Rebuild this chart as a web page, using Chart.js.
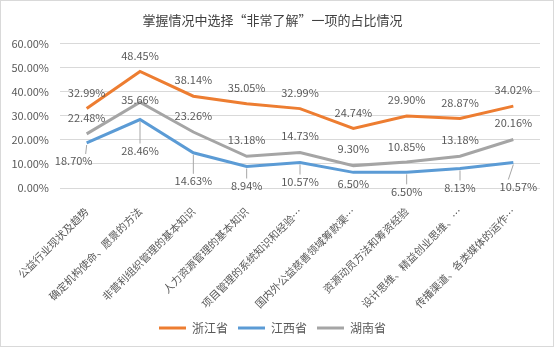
<!DOCTYPE html>
<html lang="zh">
<head>
<meta charset="UTF-8">
<title>掌握情况中选择“非常了解”一项的占比情况</title>
<script src="https://cdn.jsdelivr.net/npm/chart.js"></script>
<style>
    body { margin: 0; background: #fff; }
    .box { width: 554px; height: 347px; box-sizing: border-box; border: 1px solid #d9d9d9; }
    .box canvas { display: block; }
</style>
</head>
<body>
<div class="box"><canvas id="grafico" width="552" height="345"></canvas></div>

<script>
    // categorias (eixo x)
    const categorias = [
        '公益行业现状及趋势',
        '确定机构使命、愿景的方法',
        '非营利组织管理的基本知识',
        '人力资源管理的基本知识',
        '项目管理的系统知识和经验…',
        '国内外公益慈善领域筹款渠…',
        '资源动员方法和筹资经验',
        '设计思维、精益创业思维、…',
        '传播渠道、各类媒体的运作…'
    ];

    // series (%)
    const zhejiang = [32.99, 48.45, 38.14, 35.05, 32.99, 24.74, 29.90, 28.87, 34.02];
    const jiangxi = [18.70, 28.46, 14.63, 8.94, 10.57, 6.50, 6.50, 8.13, 10.57];
    const hunan = [22.48, 35.66, 23.26, 13.18, 14.73, 9.30, 10.85, 13.18, 20.16];

    const yMin = 0, yMax = 60, yStep = 10;

    const fonte = '"Noto Sans CJK SC", "Noto Sans", sans-serif';
    const cinza = '#595959';

    // deslocamento dos rótulos de dados (px) por série
    const rotulos = [
        { dx: [0, 0, 0, 0, 0, 0, 0, 0, 0], dy: [-16, -16, -16, -16, -16, -16, -16, -16, -16] },
        { dx: [-13, 0, 0, 0, 0, 0, 0, 0, 5], dy: [18, 31, 28, 19, 19, 11, 19, 19, 24] },
        { dx: [0, 0, 0, 0, 0, 0, 0, 0, 0], dy: [-16, -2, -16, -16, -17, -17, -15, -16, -17] }
    ];

    const pluginRotulos = {
        id: 'rotulos',
        afterDatasetsDraw(chart) {
            const c = chart.ctx;
            c.save();
            c.font = '11px ' + fonte;
            c.textAlign = 'center';
            c.textBaseline = 'middle';
            chart.data.datasets.forEach((ds, i) => {
                const meta = chart.getDatasetMeta(i);
                meta.data.forEach((pt, j) => {
                    const off = rotulos[i];
                    const x = pt.x + off.dx[j];
                    const y = pt.y + off.dy[j];
                    // linha guia
                    if (off.dy[j] > 15) {
                        c.strokeStyle = '#a6a6a6';
                        c.lineWidth = 1;
                        c.beginPath();
                        c.moveTo(pt.x, pt.y + 2);
                        c.lineTo(x + (off.dx[j] < 0 ? 12 : (off.dx[j] > 0 ? -10 : 0)), y - 7);
                        c.stroke();
                    }
                    c.fillStyle = cinza;
                    c.fillText(ds.data[j].toFixed(2) + '%', x, y);
                });
            });
            c.restore();
        }
    };

    const ctx = document.getElementById('grafico').getContext('2d');

    new Chart(ctx, {
        type: 'line',
        data: {
            labels: categorias,
            datasets: [
                { label: '浙江省', data: zhejiang, borderColor: '#ED7D31', backgroundColor: '#ED7D31' },
                { label: '江西省', data: jiangxi, borderColor: '#5B9BD5', backgroundColor: '#5B9BD5' },
                { label: '湖南省', data: hunan, borderColor: '#A5A5A5', backgroundColor: '#A5A5A5' }
            ]
        },
        options: {
            responsive: false,
            animation: false,
            elements: {
                line: { borderWidth: 3, tension: 0 },
                point: { radius: 0, hoverRadius: 0 }
            },
            layout: { padding: { left: 4, right: 13, top: 0, bottom: 2 } },
            scales: {
                x: {
                    offset: true,
                    grid: { display: false },
                    border: { display: false },
                    ticks: {
                        color: cinza,
                        font: { family: fonte, size: 10.5 },
                        minRotation: 45,
                        maxRotation: 45,
                        autoSkip: false,
                        padding: 9
                    },
                    afterFit(scale) { scale.height = 124; }
                },
                y: {
                    min: yMin,
                    max: yMax,
                    grid: { color: '#d9d9d9', drawTicks: false },
                    border: { display: false },
                    ticks: {
                        stepSize: yStep,
                        color: cinza,
                        padding: 11,
                        font: { family: fonte, size: 11 },
                        callback: v => v.toFixed(2) + '%'
                    },
                    afterFit(scale) { scale.width = 55; }
                }
            },
            plugins: {
                title: {
                    display: true,
                    text: '掌握情况中选择“非常了解”一项的占比情况',
                    color: '#404040',
                    font: { family: fonte, size: 13, weight: 'normal' },
                    padding: { top: 11, bottom: 16 }
                },
                legend: {
                    position: 'bottom',
                    labels: {
                        color: cinza,
                        font: { family: fonte, size: 12 },
                        boxWidth: 27,
                        boxHeight: 3,
                        padding: 10,
                        generateLabels(chart) {
                            const itens = Chart.defaults.plugins.legend.labels.generateLabels(chart);
                            itens.forEach(it => { it.lineWidth = 0; });
                            return itens;
                        }
                    }
                },
                tooltip: { enabled: false }
            }
        },
        plugins: [pluginRotulos]
    });
</script>
</body>
</html>
